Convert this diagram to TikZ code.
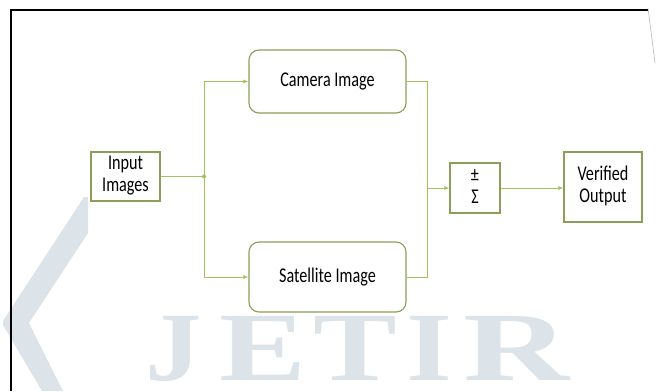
\documentclass[tikz,border=0pt]{standalone}
\usepackage{fontspec}
\setmainfont{Carlito}
\newfontfamily\wmfont{Liberation Serif}
\usetikzlibrary{arrows.meta}
\definecolor{boxc}{RGB}{140,158,88}
\definecolor{linec}{RGB}{165,192,95}
\definecolor{wmc}{RGB}{220,228,233}
\newcommand{\sx}[1]{\scalebox{0.77}[1]{#1}}
\newcommand{\twol}[2]{\sx{\begin{tabular}{@{}c@{}}#1\\#2\end{tabular}}}
\newcommand{\wml}[2]{\scalebox{#1}[1]{#2}}
\begin{document}
\begin{tikzpicture}[x=1pt,y=-1pt,
  blk/.style={draw=boxc, line width=1.1pt, fill=white, inner sep=0pt,
    font=\fontsize{21pt}{22pt}\selectfont, text=black},
  sqbox/.style={blk, rectangle},
  rbox/.style={blk, rectangle, rounded corners=10pt},
  conn/.style={draw=linec, line width=1pt},
  arr/.style={conn, -{Latex[length=5pt,width=4pt]}, color=linec},
  wmletter/.style={inner sep=0pt, text=wmc, anchor=base,
    font=\wmfont\bfseries\fontsize{98pt}{98pt}\selectfont}]
\useasboundingbox (0,0) rectangle (658,391);
\fill[white] (0,0) rectangle (658,391);
% watermark
\fill[wmc] (84,197) -- (88,197) -- (88,233) -- (29,323) -- (63,391) -- (42,391) -- (3,325) -- (3,321) -- cycle;
\node[wmletter] (wJ) at (173.5,380) {\wml{1.15}{J}};
\node[wmletter] (wE) at (262.5,380) {\wml{1.33}{E}};
\node[wmletter] (wT) at (355,380) {\wml{1.28}{T}};
\node[wmletter] (wI) at (429,380) {\wml{1.2}{I}};
\node[wmletter] (wR) at (516.5,380) {\wml{1.5}{R}};
% frame
\draw[line width=2.2pt, black] (11,391) -- (11,10) -- (648,10);
\draw[gray!55, line width=0.6pt] (648,8) -- (655,63);
% blocks
\node[sqbox, minimum width=69pt, minimum height=49pt] (inp) at (125.5,176.5) {\twol{Input}{Images}};
\node[rbox, minimum width=157pt, minimum height=63pt] (cam) at (327.5,81.5) {\sx{Camera Image}};
\node[rbox, minimum width=157pt, minimum height=70pt] (sat) at (327.5,277) {\sx{Satellite Image}};
\node[sqbox, minimum width=50pt, minimum height=50pt] (sig) at (475,188) {\twol{±}{Σ}};
\node[sqbox, minimum width=78pt, minimum height=70pt] (ver) at (603,187) {\twol{Verified}{Output}};
% connectors
\coordinate (j) at (204,176.5);
\coordinate (m) at (427,188);
\draw[conn] (inp.east) -- (j);
\draw[arr] (j) |- (cam.west);
\draw[arr] (j) |- (sat.west);
\fill[linec] (j) circle (2pt);
\draw[conn] (cam.east) -| (m);
\draw[conn] (sat.east) -| (m);
\draw[arr] (m) -- (sig.west);
\draw[arr] (sig.east) -- (ver.west |- sig.east);
\end{tikzpicture}
\end{document}
